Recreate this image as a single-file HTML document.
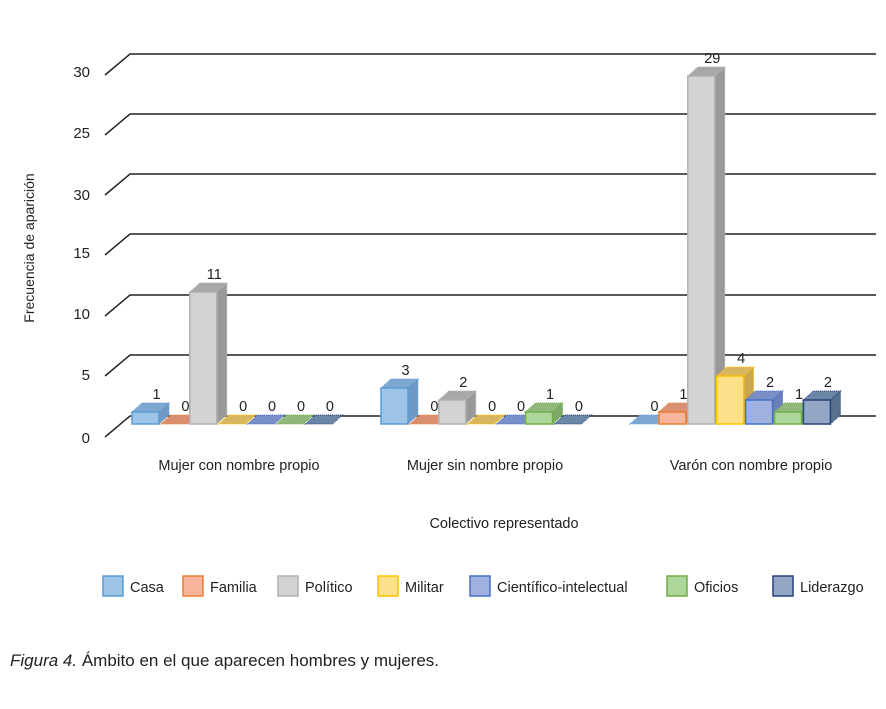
<!DOCTYPE html>
<html><head><meta charset="utf-8"><style>
body{margin:0;background:#fff;}
svg{display:block;font-family:"Liberation Sans",sans-serif;}
</style></head><body>
<svg id="s" width="886" height="709" viewBox="0 0 886 709" xmlns="http://www.w3.org/2000/svg">
<g id="grid" stroke="#222" stroke-width="1.5" fill="none"></g>
<g id="ticks" font-size="15" fill="#222" text-anchor="end"></g>
<text transform="translate(34,248) rotate(-90)" font-size="14" text-anchor="middle" fill="#222">Frecuencia de aparición</text>
<g id="bars"></g>
<g font-size="14.5" fill="#222" text-anchor="middle">
<text x="239" y="470">Mujer con nombre propio</text>
<text x="485" y="470">Mujer sin nombre propio</text>
<text x="751" y="470">Varón con nombre propio</text>
<text x="504" y="528">Colectivo representado</text>
</g>
<g id="leg" font-size="14.5" fill="#222"></g>
<text x="10" y="666" font-size="17" fill="#222"><tspan font-style="italic">Figura 4.</tspan> Ámbito en el que aparecen hombres y mujeres.</text>
</svg>
<script>
const NS="http://www.w3.org/2000/svg";
function el(p,t,a,txt){const e=document.createElementNS(NS,t);for(const k in a)e.setAttribute(k,a[k]);if(txt!==undefined)e.textContent=txt;document.getElementById(p).appendChild(e);return e;}
const gy=[54,114,174,234,295,355,416];
gy.forEach(y=>{el('grid','polyline',{points:`105,${y+21} 130,${y} 876,${y}`});});
const tl=["30","25","30","15","10","5","0"];
const ty=[77,138,200,258,319,380,443];
tl.forEach((t,i)=>el('ticks','text',{x:90,y:ty[i]},t));
const cols=[["#9dc3e6","#5b9bd5","#7fa8d0","#6f98c4"],["#f8b59b","#ed7d31","#d99072","#c9805f"],["#d3d3d3","#b0b0b0","#a8a8a8","#999"],["#ffe08a","#ffc000","#d8b560","#c9a64f"],["#a0b0e0","#4472c4","#7a8fc8","#6a7fb8"],["#aed69a","#70ad47","#8fb87a","#7fa86a"],["#93a7c4","#264478","#6c86a8","#58708f"]];
const data=[[1,0,11,0,0,0,0],[3,0,2,0,0,1,0],[0,1,29,4,2,1,2]];
const starts=[132,381,630];
const base=424,u=12,w=27,dx=10,dy=9;
data.forEach((d,ci)=>{d.forEach((v,si)=>{
 const x=starts[ci]+si*28.9, c=cols[si], h=v*u, top=base-h;
 if(v>0){
  el('bars','polygon',{points:`${x+w},${top} ${x+w+dx},${top-dy} ${x+w+dx},${base-dy} ${x+w},${base}`,fill:c[3],stroke:c[1],'stroke-width':1,'stroke-dasharray':'1,1'});
  el('bars','polygon',{points:`${x},${top} ${x+dx},${top-dy} ${x+w+dx},${top-dy} ${x+w},${top}`,fill:c[2],stroke:c[1],'stroke-width':1,'stroke-dasharray':'1,1'});
  el('bars','rect',{x:x,y:top,width:w,height:h,fill:c[0],stroke:c[1],'stroke-width':1.5});
 } else {
  el('bars','polygon',{points:`${x},${base} ${x+dx},${base-dy} ${x+w+dx},${base-dy} ${x+w},${base}`,fill:c[2],stroke:c[1],'stroke-width':1,'stroke-dasharray':'1,1'});
 }
 el('bars','text',{x:x+w/2+dx/2+6,y:top-dy-4,'font-size':14.5,'text-anchor':'middle',fill:'#222'},String(v));
});});
const lg=[["Casa",103],["Familia",183],["Político",278],["Militar",378],["Científico-intelectual",470],["Oficios",667],["Liderazgo",773]];
lg.forEach((l,i)=>{el('leg','rect',{x:l[1],y:576,width:20,height:20,fill:cols[i][0],stroke:cols[i][1],'stroke-width':1.5});
el('leg','text',{x:l[1]+27,y:592},l[0]);});
</script>
</body></html>
